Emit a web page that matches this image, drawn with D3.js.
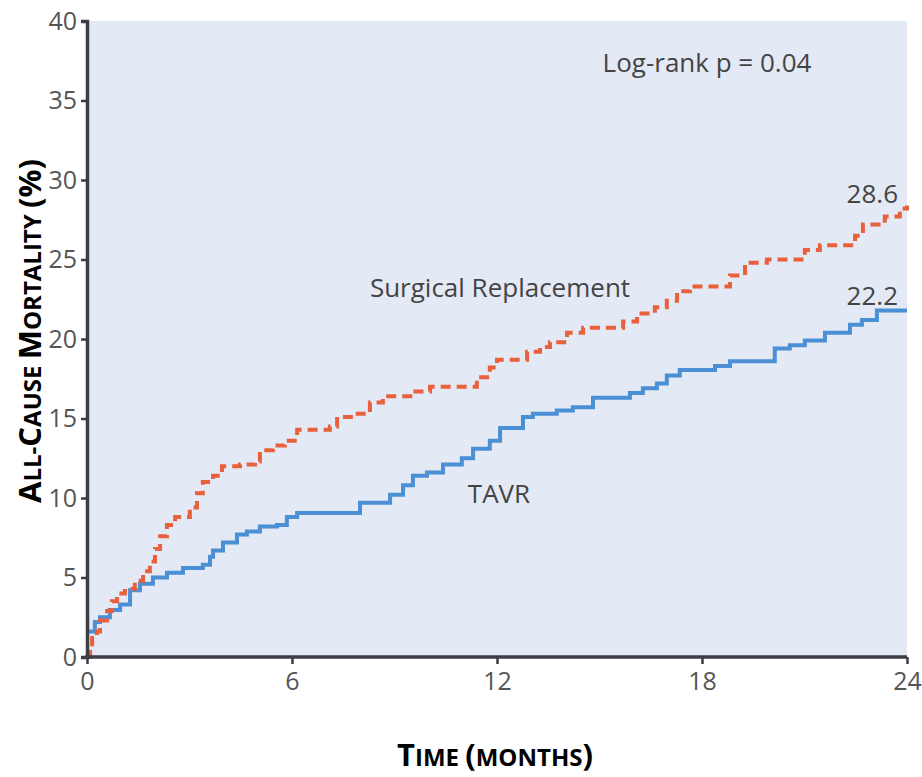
<!DOCTYPE html>
<html>
<head>
<meta charset="utf-8">
<script src="https://cdn.jsdelivr.net/npm/d3@7"></script>
<style>
  body { margin: 0; background: #fff; }
  svg { display: block; }
</style>
</head>
<body>
<div id="chart"></div>
<script>
// Kaplan-Meier style step data (month, % mortality)
var tavrMonths = [0, 0.23, 0.38, 0.67, 0.97, 1.26, 1.55, 1.93, 2.34, 2.81, 3.39, 3.6, 3.69, 3.98, 4.39, 4.68, 5.06, 5.56, 5.85, 6.15,
    7.99, 8.87, 9.25, 9.54, 9.95, 10.42, 10.97, 11.3, 11.79, 12.09, 12.76, 13.05, 13.75, 14.22, 14.81, 15.89, 16.27, 16.68,
    16.97, 17.35, 18.38, 18.82, 20.13, 20.57, 21.01, 21.6, 22.33, 22.68, 23.12, 24];
var tavrValues = [1.6, 2.2, 2.5, 2.95, 3.3, 4.2, 4.6, 5.0, 5.3, 5.6, 5.8, 6.3, 6.7, 7.2, 7.7, 7.9, 8.2, 8.3, 8.8, 9.05,
    9.7, 10.2, 10.8, 11.4, 11.6, 12.1, 12.5, 13.1, 13.6, 14.4, 15.1, 15.3, 15.5, 15.7, 16.3, 16.6, 16.9, 17.2,
    17.7, 18.05, 18.3, 18.6, 19.4, 19.6, 19.9, 20.4, 20.9, 21.2, 21.8, 21.8];

var surgMonths = [0, 0.09, 0.15, 0.29, 0.38, 0.59, 0.73, 0.88, 1.11, 1.4, 1.64, 1.84, 1.99, 2.14, 2.34, 2.58, 3.01, 3.22, 3.39,
    3.69, 3.95, 4.48, 4.92, 5.06, 5.44, 5.79, 6.15, 7.11, 7.32, 7.84, 8.28, 8.66, 9.54, 10.04, 11.41, 11.79, 12.0, 12.88,
    13.26, 13.55, 14.05, 14.52, 15.69, 16.1, 16.62, 16.97, 17.27, 17.65, 18.82, 19.26, 19.9, 21.01, 21.45, 22.48, 22.71,
    23.35, 23.79, 24];
var surgValues = [0, 0.5, 1.2, 1.6, 2.3, 2.9, 3.5, 4.0, 4.3, 4.8, 5.4, 6.0, 6.8, 7.6, 8.3, 8.8, 9.4, 10.3, 11.0,
    11.4, 12.0, 12.1, 12.3, 13.0, 13.3, 13.6, 14.3, 14.5, 15.1, 15.3, 16.0, 16.4, 16.7, 17.0, 17.6, 18.2, 18.7, 19.2,
    19.5, 19.8, 20.4, 20.7, 21.1, 21.6, 22.0, 22.4, 23.0, 23.3, 24.0, 24.8, 25.0, 25.6, 25.9, 26.5, 27.2,
    27.7, 28.2, 28.4];

var xTicks = [0, 6, 12, 18, 24];
var yTicks = [0, 5, 10, 15, 20, 25, 30, 35, 40];
var endLabels = [{ text: "28.6", value: 28.6 }, { text: "22.2", value: 22.2 }];

var width = 922,
    height = 777,
    plotLeft = 87,
    plotRight = 907,
    plotTop = 21,
    plotBottom = 657;

var x = d3.scaleLinear().domain([0, 24]).range([plotLeft, plotRight]);
var y = d3.scaleLinear().domain([0, 40]).range([plotBottom, plotTop]);

var svg = d3.select("#chart").append("svg")
    .attr("width", width)
    .attr("height", height);

svg.append("rect")
    .attr("x", plotLeft)
    .attr("y", plotTop)
    .attr("width", plotRight - plotLeft)
    .attr("height", plotBottom - plotTop)
    .style("fill", "#e3e9f5");

var line = d3.line()
    .x(function(d) { return x(d[0]); })
    .y(function(d) { return y(d[1]); })
    .curve(d3.curveStepAfter);

var tavr = tavrMonths.map(function(m, i) { return [m, tavrValues[i]]; });
var surg = surgMonths.map(function(m, i) { return [m, surgValues[i]]; });

svg.append("path")
    .datum(tavr)
    .attr("d", line)
    .style("fill", "none")
    .style("stroke", "#4b8fd5")
    .style("stroke-width", 4);

svg.append("path")
    .datum(surg)
    .attr("d", line)
    .style("fill", "none")
    .style("stroke", "#e8603c")
    .style("stroke-width", 4)
    .style("stroke-dasharray", "10,6");

// axes
var yAxis = svg.append("g")
    .attr("transform", "translate(" + plotLeft + ",0)")
    .call(d3.axisLeft(y).tickValues(yTicks).tickSize(6).tickPadding(4));

var xAxis = svg.append("g")
    .attr("transform", "translate(0," + plotBottom + ")")
    .call(d3.axisBottom(x).tickValues(xTicks).tickSize(7).tickPadding(8));

[yAxis, xAxis].forEach(function(g) {
    g.select(".domain").style("stroke", "#3b3e44").style("stroke-width", 3.5);
    g.selectAll(".tick line").style("stroke", "#3b3e44").style("stroke-width", 2.5);
    g.selectAll(".tick text")
        .style("font-family", "'Open Sans', sans-serif")
        .style("font-size", "25px")
        .style("fill", "#555");
});
xAxis.select(".domain").attr("d", "M" + (plotLeft - 2) + ",0H" + plotRight);

// annotations
var textFont = "'Open Sans', sans-serif";

svg.append("text")
    .attr("x", 707).attr("y", 72)
    .attr("text-anchor", "middle")
    .style("font-family", textFont).style("font-size", "26px").style("fill", "#444")
    .text("Log-rank p = 0.04");

svg.append("text")
    .attr("x", 500).attr("y", 297)
    .attr("text-anchor", "middle")
    .style("font-family", textFont).style("font-size", "26px").style("fill", "#444")
    .text("Surgical Replacement");

svg.append("text")
    .attr("x", 499).attr("y", 503)
    .attr("text-anchor", "middle")
    .style("font-family", textFont).style("font-size", "26px").style("fill", "#444")
    .text("TAVR");

svg.selectAll(".endlabel")
    .data(endLabels)
    .enter().append("text")
    .attr("class", "endlabel")
    .attr("x", 898)
    .attr("y", function(d) { return y(d.value) + 1; })
    .attr("text-anchor", "end")
    .style("font-family", textFont).style("font-size", "26px").style("fill", "#444")
    .text(function(d) { return d.text; });

// axis titles in small caps
function smallCaps(sel, parts) {
    parts.forEach(function(p) {
        sel.append("tspan")
            .style("font-size", p[1] ? "31px" : "24px")
            .text(p[0]);
    });
}

var yTitle = svg.append("text")
    .attr("transform", "translate(41,331) rotate(-90)")
    .attr("text-anchor", "middle")
    .style("font-family", "'Open Sans', sans-serif")
    .style("font-weight", "bold")
    .style("fill", "#000");
smallCaps(yTitle, [["A", 1], ["LL-", 0], ["C", 1], ["AUSE ", 0], ["M", 1], ["ORTALITY ", 0], ["(%)", 1]]);

var xTitle = svg.append("text")
    .attr("x", 495).attr("y", 766)
    .attr("text-anchor", "middle")
    .style("font-family", "'Open Sans', sans-serif")
    .style("font-weight", "bold")
    .style("fill", "#000");
smallCaps(xTitle, [["T", 1], ["IME ", 0], ["(", 1], ["MONTHS", 0], [")", 1]]);
</script>
</body>
</html>
